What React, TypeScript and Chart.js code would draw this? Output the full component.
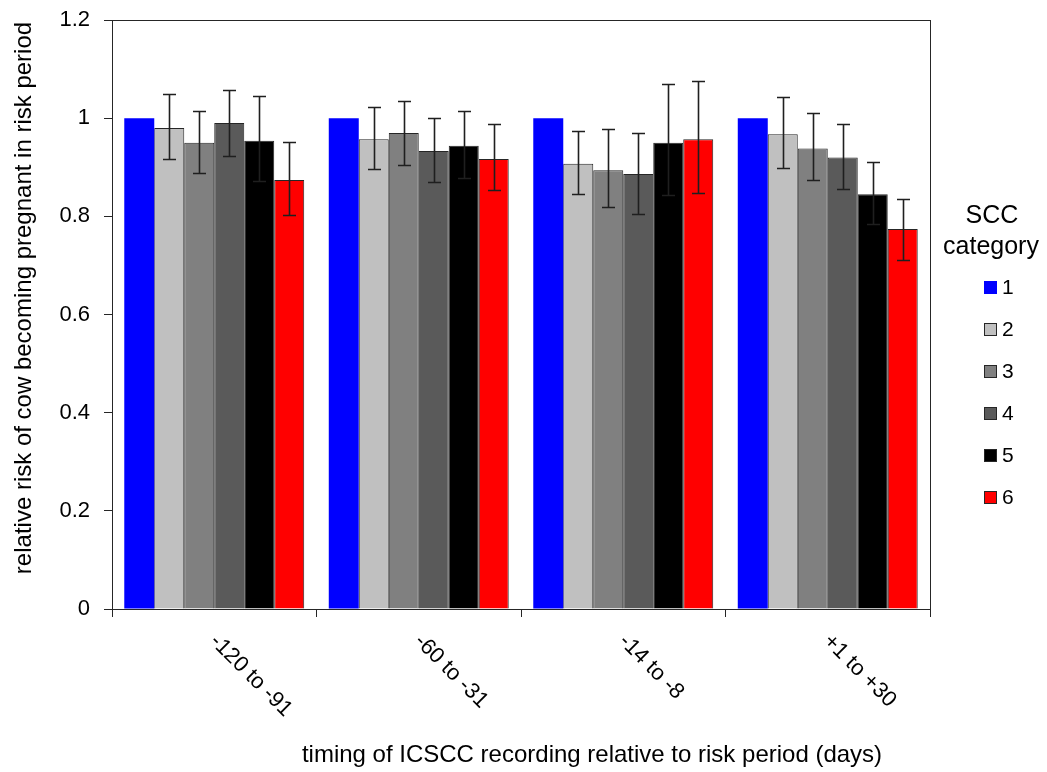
import React, { useEffect, useRef } from "react";
import { Chart, registerables } from "chart.js";

Chart.register(...registerables);

// Timing windows (x categories)
const categories = ["-120 to -91", "-60 to -31", "-14 to -8", "+1 to +30"];

// SCC category names
const sccNames = ["1", "2", "3", "4", "5", "6"];

// Relative risk per SCC category (category 1 is the reference)
const scc1 = [1, 1, 1, 1];
const scc2 = [0.98, 0.957, 0.907, 0.967];
const scc3 = [0.95, 0.97, 0.894, 0.938];
const scc4 = [0.99, 0.933, 0.886, 0.92];
const scc5 = [0.954, 0.944, 0.95, 0.845];
const scc6 = [0.874, 0.917, 0.957, 0.774];

// 95% confidence limits
const scc2Low = [0.916, 0.897, 0.845, 0.899];
const scc2High = [1.049, 1.022, 0.974, 1.043];
const scc3Low = [0.889, 0.904, 0.819, 0.874];
const scc3High = [1.014, 1.035, 0.978, 1.011];
const scc4Low = [0.923, 0.87, 0.805, 0.855];
const scc4High = [1.058, 1.0, 0.97, 0.988];
const scc5Low = [0.871, 0.879, 0.844, 0.785];
const scc5High = [1.045, 1.014, 1.069, 0.91];
const scc6Low = [0.802, 0.853, 0.847, 0.711];
const scc6High = [0.951, 0.988, 1.076, 0.836];

// Y axis ticks
const yTicks = [0, 0.2, 0.4, 0.6, 0.8, 1, 1.2];

const seriesValues = [scc1, scc2, scc3, scc4, scc5, scc6];
const seriesLow: (number[] | null)[] = [null, scc2Low, scc3Low, scc4Low, scc5Low, scc6Low];
const seriesHigh: (number[] | null)[] = [null, scc2High, scc3High, scc4High, scc5High, scc6High];
const seriesColors = ["#0000ff", "#c0c0c0", "#808080", "#5a5a5a", "#000000", "#ff0000"];
const seriesBorders = ["#0000ff", "#262626", "#262626", "#262626", "#262626", "#262626"];

const FONT = "'Liberation Sans', Arial, sans-serif";
const AXIS_COLOR = "#262626";

const errorBarPlugin = {
  id: "errorBars",
  afterDatasetsDraw(chart: any) {
    const ctx = chart.ctx;
    const y = chart.scales.y;
    ctx.save();
    ctx.strokeStyle = "#1f1f1f";
    ctx.lineWidth = 1.6;
    chart.data.datasets.forEach((_ds: any, di: number) => {
      const low = seriesLow[di];
      const high = seriesHigh[di];
      if (!low || !high) return;
      const meta = chart.getDatasetMeta(di);
      meta.data.forEach((bar: any, i: number) => {
        const x = Math.round(bar.x) + 0.5;
        const yl = Math.round(y.getPixelForValue(low[i])) + 0.5;
        const yh = Math.round(y.getPixelForValue(high[i])) + 0.5;
        const cap = 6.5;
        ctx.beginPath();
        ctx.moveTo(x, yl);
        ctx.lineTo(x, yh);
        ctx.moveTo(x - cap, yl);
        ctx.lineTo(x + cap, yl);
        ctx.moveTo(x - cap, yh);
        ctx.lineTo(x + cap, yh);
        ctx.stroke();
      });
    });
    ctx.restore();
  },
};

const decorPlugin = {
  id: "decor",
  afterDraw(chart: any) {
    const ctx = chart.ctx;
    const area = chart.chartArea;
    const xs = chart.scales.x;
    ctx.save();

    // plot frame
    ctx.strokeStyle = AXIS_COLOR;
    ctx.lineWidth = 1;
    ctx.strokeRect(
      Math.round(area.left) + 0.5,
      Math.round(area.top) + 0.5,
      Math.round(area.right - area.left),
      Math.round(area.bottom - area.top)
    );

    ctx.fillStyle = "#000";

    // rotated category labels
    ctx.font = `22px ${FONT}`;
    ctx.textAlign = "left";
    ctx.textBaseline = "middle";
    categories.forEach((c, i) => {
      const cx = xs.getPixelForValue(i);
      ctx.save();
      ctx.translate(cx - 1, 638);
      ctx.rotate(Math.PI / 4);
      ctx.fillText(c, 0, 0);
      ctx.restore();
    });

    // axis titles
    ctx.font = `24px ${FONT}`;
    ctx.textAlign = "center";
    ctx.fillText("timing of ICSCC recording relative to risk period (days)", 592, 755);
    ctx.save();
    ctx.translate(24, 298);
    ctx.rotate(-Math.PI / 2);
    ctx.fillText("relative risk of cow becoming pregnant in risk period", 0, 0);
    ctx.restore();

    // legend
    ctx.font = `25px ${FONT}`;
    ctx.fillText("SCC", 992, 216);
    ctx.fillText("category", 991, 247);
    ctx.font = `21px ${FONT}`;
    ctx.textAlign = "left";
    sccNames.forEach((name, i) => {
      const yc = 287 + i * 42;
      ctx.fillStyle = seriesColors[i];
      ctx.fillRect(984, yc - 6, 13, 13);
      if (i > 0) {
        ctx.strokeStyle = AXIS_COLOR;
        ctx.lineWidth = 1;
        ctx.strokeRect(984.5, yc - 5.5, 12, 12);
      }
      ctx.fillStyle = "#000";
      ctx.fillText(name, 1002, yc + 1);
    });
    ctx.restore();
  },
};

export default function App() {
  const canvasRef = useRef<HTMLCanvasElement | null>(null);

  useEffect(() => {
    if (!canvasRef.current) return;
    const chart = new Chart(canvasRef.current, {
      type: "bar",
      data: {
        labels: categories,
        datasets: sccNames.map((name, i) => ({
          label: name,
          data: seriesValues[i],
          backgroundColor: seriesColors[i],
          borderColor: seriesBorders[i],
          borderWidth: i === 0 ? 0 : 1,
          barPercentage: 1,
          categoryPercentage: 0.88,
        })),
      },
      options: {
        responsive: false,
        animation: false,
        devicePixelRatio: 1,
        layout: { padding: { left: 0, top: 20, right: 117, bottom: 0 } },
        plugins: {
          legend: { display: false },
          tooltip: { enabled: false },
          title: { display: false },
        },
        scales: {
          x: {
            offset: true,
            grid: {
              display: true,
              offset: true,
              drawOnChartArea: false,
              drawTicks: true,
              tickLength: 8,
              color: AXIS_COLOR,
            },
            border: { display: true, color: AXIS_COLOR },
            ticks: { display: false },
            afterFit(scale: any) {
              scale.height = 163;
              scale.paddingLeft = 0;
              scale.paddingRight = 0;
            },
          },
          y: {
            min: 0,
            max: 1.2,
            afterBuildTicks(scale: any) {
              scale.ticks = yTicks.map((v) => ({ value: v }));
            },
            grid: {
              display: true,
              drawOnChartArea: false,
              drawTicks: true,
              tickLength: 8,
              color: AXIS_COLOR,
            },
            border: { display: true, color: AXIS_COLOR },
            ticks: {
              padding: 14,
              color: "#000",
              font: { family: FONT, size: 22 },
              callback: (v: any) => String(Math.round(Number(v) * 10) / 10),
            },
            afterFit(scale: any) {
              scale.width = 112;
              scale.paddingTop = 0;
              scale.paddingBottom = 0;
            },
          },
        },
      },
      plugins: [errorBarPlugin, decorPlugin],
    });
    return () => chart.destroy();
  }, []);

  return (
    <div style={{ position: "absolute", left: 0, top: 0, width: 1047, height: 772, background: "#fff" }}>
      <canvas ref={canvasRef} width={1047} height={772} />
    </div>
  );
}
